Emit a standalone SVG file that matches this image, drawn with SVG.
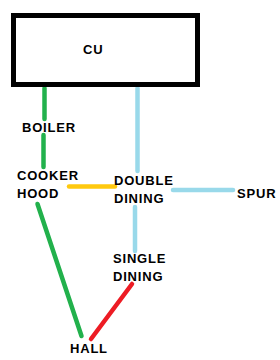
<svg xmlns="http://www.w3.org/2000/svg" width="280" height="360" viewBox="0 0 280 360">
<style>
text{font-family:"Liberation Sans",Arial,sans-serif;font-weight:bold;font-size:13px;letter-spacing:0.8px;fill:#000}
.c{fill:none;stroke-width:4.5;stroke-linecap:round}
.g{stroke:#22b14c}.b{stroke:#99d9ea}.y{stroke:#ffc90e}.r{stroke:#ed1c24}
</style>
<rect width="280" height="360" fill="#fff"/>
<g id="connectors">
<line class="c g" x1="44.5" y1="88" x2="44.5" y2="119"/>
<line class="c g" x1="43.5" y1="135" x2="43.5" y2="167"/>
<line class="c b" x1="137.5" y1="88" x2="137.5" y2="171"/>
<line class="c y" x1="69" y1="186.5" x2="115" y2="186.5"/>
<line class="c b" x1="173" y1="190" x2="233" y2="190"/>
<line class="c b" x1="135" y1="207" x2="135" y2="251"/>
<line class="c r" x1="132" y1="284" x2="91" y2="339"/>
<line class="c g" x1="37.5" y1="204" x2="81.5" y2="336"/>
</g>
<g id="cu"><rect x="13.5" y="15.5" width="184" height="69" fill="none" stroke="#000" stroke-width="5"/><text x="83" y="54">CU</text></g>
<g id="boiler"><text x="22" y="132">BOILER</text></g>
<g id="cooker-hood"><text x="17" y="180">COOKER</text><text x="17" y="198">HOOD</text></g>
<g id="double-dining"><text x="114" y="185">DOUBLE</text><text x="114" y="203">DINING</text></g>
<g id="spur"><text x="237" y="198">SPUR</text></g>
<g id="single-dining"><text x="113" y="263">SINGLE</text><text x="113" y="281">DINING</text></g>
<g id="hall"><text x="70" y="353">HALL</text></g>
</svg>
